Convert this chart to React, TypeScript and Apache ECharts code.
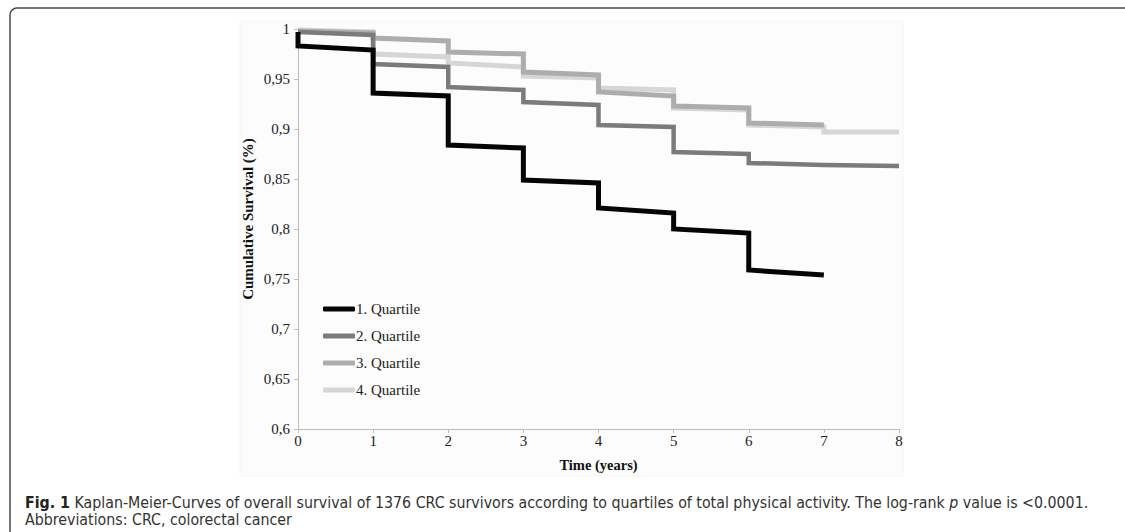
import React, { useEffect, useRef } from "react";
import * as echarts from "echarts";

const seriesNames = ["1. Quartile", "2. Quartile", "3. Quartile", "4. Quartile"];
const seriesColors = ["#050505", "#7b7b7b", "#adadad", "#d6d6d6"];
const seriesWidths = [5, 4.5, 5, 5];

// [time (years), cumulative survival]
const q1Points: [number, number][] = [
  [0, 0.997], [0, 0.983], [1, 0.979], [1, 0.936], [2, 0.933], [2, 0.884],
  [3, 0.881], [3, 0.849], [4, 0.846], [4, 0.821], [5, 0.816], [5, 0.8],
  [6, 0.796], [6, 0.759], [7, 0.754],
];
const q2Points: [number, number][] = [
  [0, 0.997], [1, 0.994], [1, 0.965], [2, 0.962], [2, 0.942], [3, 0.939],
  [3, 0.927], [4, 0.924], [4, 0.904], [5, 0.902], [5, 0.877], [6, 0.875],
  [6, 0.866], [7, 0.864], [8, 0.863],
];
const q3Points: [number, number][] = [
  [0, 0.998], [1, 0.996], [1, 0.991], [2, 0.988], [2, 0.977], [3, 0.975],
  [3, 0.957], [4, 0.954], [4, 0.937], [5, 0.933], [5, 0.923], [6, 0.921],
  [6, 0.906], [7, 0.904],
];
const q4Points: [number, number][] = [
  [0, 0.999], [1, 0.997], [1, 0.975], [2, 0.972], [2, 0.966], [3, 0.962],
  [3, 0.953], [4, 0.951], [4, 0.941], [5, 0.939], [5, 0.921], [6, 0.919],
  [6, 0.904], [7, 0.902], [7, 0.897], [8, 0.897],
];
const allPoints = [q1Points, q2Points, q3Points, q4Points];

const xTicks = [0, 1, 2, 3, 4, 5, 6, 7, 8];
const yTickLabels = ["0,6", "0,65", "0,7", "0,75", "0,8", "0,85", "0,9", "0,95", "1"];

const xTitle = "Time (years)";
const yTitle = "Cumulative Survival (%)";
const captionLine1 =
  "{b|Fig. 1} Kaplan-Meier-Curves of overall survival of 1376 CRC survivors according to quartiles of total physical activity. The log-rank {i|p} value is <0.0001.";
const captionLine2 = "Abbreviations: CRC, colorectal cancer";

export default function App() {
  const ref = useRef<HTMLDivElement>(null);
  useEffect(() => {
    if (!ref.current) return;
    const chart = echarts.init(ref.current, undefined, { renderer: "svg" });
    const serif = "'Liberation Serif', 'Times New Roman', serif";
    const sans = "'Liberation Sans Narrow', 'DejaVu Sans Condensed', 'Liberation Sans', sans-serif";
    chart.setOption({
      animation: false,
      backgroundColor: "#ffffff",
      grid: { left: 298, right: 226, top: 29, bottom: 103, containLabel: false },
      xAxis: {
        type: "value",
        min: xTicks[0],
        max: xTicks[xTicks.length - 1],
        interval: 1,
        name: xTitle,
        nameLocation: "middle",
        nameGap: 28,
        nameTextStyle: { fontFamily: serif, fontWeight: "bold", fontSize: 14.5, color: "#111" },
        axisLine: { lineStyle: { color: "#bdbdbd", width: 1 } },
        axisTick: { show: true, length: 4, lineStyle: { color: "#bdbdbd" } },
        axisLabel: { fontFamily: serif, fontSize: 15, color: "#222", margin: 4 },
        splitLine: { show: false },
      },
      yAxis: {
        type: "value",
        min: 0.6,
        max: 1,
        interval: 0.05,
        axisLine: { show: true, lineStyle: { color: "#bdbdbd", width: 1 } },
        axisTick: { show: true, length: 4, lineStyle: { color: "#bdbdbd" } },
        axisLabel: {
          fontFamily: serif,
          fontSize: 15,
          color: "#222",
          margin: 8,
          formatter: (v: number) => yTickLabels[Math.round((v - 0.6) / 0.05)] ?? "",
        },
        splitLine: { show: false },
      },
      legend: {
        orient: "vertical",
        left: 318,
        top: 296,
        icon: "roundRect",
        itemWidth: 32,
        itemHeight: 5,
        itemGap: 11,
        data: seriesNames,
        textStyle: { fontFamily: serif, fontSize: 15, color: "#222", lineHeight: 16, padding: [0, 0, 0, -4] },
      },
      series: seriesNames.map((name, i) => ({
        name,
        type: "line",
        data: allPoints[i],
        showSymbol: false,
        symbol: "none",
        color: seriesColors[i],
        lineStyle: { color: seriesColors[i], width: seriesWidths[i], join: "miter", cap: "butt" },
        z: 10 - i,
      })),
      graphic: [
        {
          type: "rect",
          silent: true,
          shape: { x: 10, y: 8, width: 1200, height: 600, r: 7 },
          style: { fill: "none", stroke: "#4a4a4a", lineWidth: 1.5 },
          z: -1,
        },
        {
          type: "rect",
          silent: true,
          shape: { x: 240, y: 21, width: 663, height: 455 },
          style: { fill: "#fcfcfc", stroke: "#f6f6f6", lineWidth: 1 },
          z: -2,
        },
        {
          type: "text",
          x: 248,
          y: 219,
          rotation: Math.PI / 2,
          style: {
            text: yTitle,
            fontFamily: serif,
            fontWeight: "bold",
            fontSize: 15,
            fill: "#111",
            align: "center",
            verticalAlign: "middle",
          },
        },
        {
          type: "text",
          left: 25,
          top: 494,
          style: {
            text: captionLine1,
            fontFamily: sans,
            fontSize: 15.8,
            fill: "#333",
            rich: {
              b: { fontFamily: sans, fontSize: 15.8, fontWeight: "bold", fill: "#222" },
              i: { fontFamily: sans, fontSize: 15.8, fontStyle: "italic", fill: "#333" },
            },
          },
        },
        {
          type: "text",
          left: 25,
          top: 511,
          style: { text: captionLine2, fontFamily: sans, fontSize: 15.8, fill: "#333" },
        },
      ],
    });
    return () => chart.dispose();
  }, []);
  return (
    <div
      ref={ref}
      style={{ position: "fixed", left: 0, top: 0, width: 1125, height: 532, background: "#fff" }}
    />
  );
}
